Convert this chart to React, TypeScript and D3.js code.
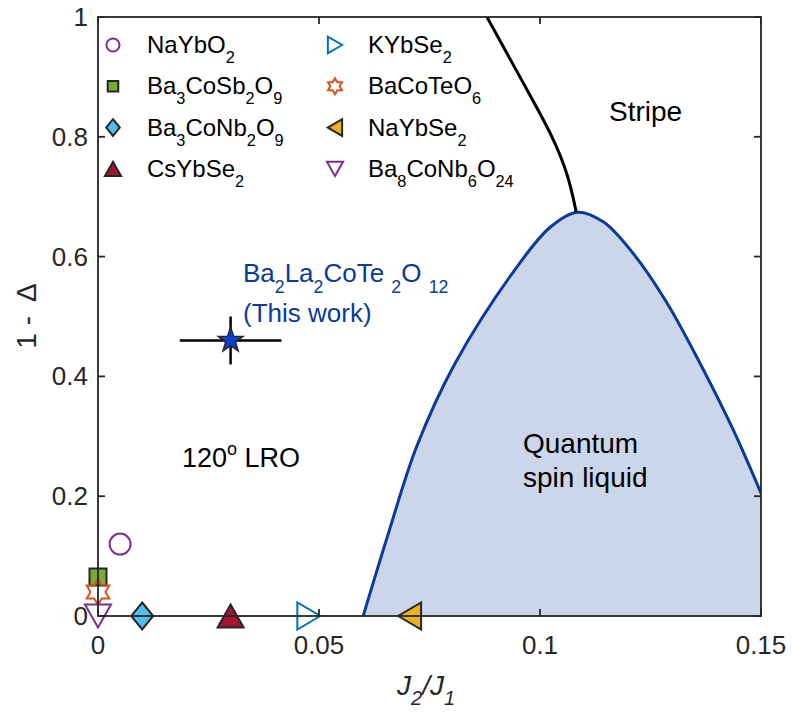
import React from "react";
import * as d3 from "d3";

// QSL phase boundary (J2/J1, 1-Δ)
const qslJ = [0.06, 0.0657, 0.0721, 0.0808, 0.0948, 0.1023, 0.1084, 0.1143, 0.121, 0.1287, 0.1362, 0.1437, 0.15];
const qslY = [0, 0.138, 0.283, 0.422, 0.583, 0.649, 0.674, 0.658, 0.606, 0.523, 0.422, 0.311, 0.205];

// 120-degree / stripe boundary
const stripeJ = [0.088, 0.0962, 0.1023, 0.1062, 0.1082];
const stripeY = [1, 0.89, 0.806, 0.735, 0.674];

// compounds
const compoundNames = [
  "NaYbO_2",
  "Ba_3CoSb_2O_9",
  "Ba_3CoNb_2O_9",
  "CsYbSe_2",
  "KYbSe_2",
  "BaCoTeO_6",
  "NaYbSe_2",
  "Ba_8CoNb_6O_{24}",
];
const compoundJ = [0.005, 0, 0.01, 0.03, 0.0477, 0, 0.0705, 0];
const compoundY = [0.12, 0.065, 0, 0, 0, 0.04, 0, 0];
const compoundMarker = ["circle", "square", "diamond", "up", "right", "hexagram", "left", "down"];
const compoundColor = ["#7E2F8E", "#77AC30", "#4DBEEE", "#A2142F", "#0072BD", "#D95319", "#EDB120", "#7E2F8E"];
const compoundFilled = [false, true, true, true, false, false, true, false];

// this work
const thisJ = 0.03;
const thisY = 0.46;
const thisJErr = 0.0115;
const thisYErr = 0.04;

const xTicks = [0, 0.05, 0.1, 0.15];
const xTickLabels = ["0", "0.05", "0.1", "0.15"];
const yTicks = [0, 0.2, 0.4, 0.6, 0.8, 1];
const yTickLabels = ["0", "0.2", "0.4", "0.6", "0.8", "1"];

const W = 792;
const H = 713;
const L = 98, R = 761, T = 17, B = 616;
const FONT = "'Liberation Sans', Arial, Helvetica, sans-serif";
const AX = "#262626";

function markerPath(kind: string, s: number): string {
  const p = d3.path();
  if (kind === "circle") {
    const r = 10.5 * s;
    p.moveTo(r, 0);
    p.arc(0, 0, r, 0, Math.PI * 2);
  } else if (kind === "square") {
    const a = 8.5 * s;
    p.rect(-a, -a, 2 * a, 2 * a);
  } else if (kind === "diamond") {
    const w = 11 * s, h = 13.5 * s;
    p.moveTo(0, -h); p.lineTo(w, 0); p.lineTo(0, h); p.lineTo(-w, 0); p.closePath();
  } else if (kind === "up" || kind === "down") {
    const w = 13 * s, h = 11.5 * s;
    const d = kind === "up" ? 1 : -1;
    p.moveTo(0, -h * d); p.lineTo(w, h * d); p.lineTo(-w, h * d); p.closePath();
  } else if (kind === "left" || kind === "right") {
    const w = 11.5 * s, h = 13.5 * s;
    const d = kind === "right" ? 1 : -1;
    p.moveTo(w * d, 0); p.lineTo(-w * d, h); p.lineTo(-w * d, -h); p.closePath();
  } else if (kind === "hexagram") {
    const ro = 13 * s, ri = ro / Math.sqrt(3);
    for (let i = 0; i < 12; i++) {
      const r = i % 2 === 0 ? ro : ri;
      const a = -Math.PI / 2 + (i * Math.PI) / 6;
      if (i === 0) p.moveTo(r * Math.cos(a), r * Math.sin(a));
      else p.lineTo(r * Math.cos(a), r * Math.sin(a));
    }
    p.closePath();
  } else if (kind === "star") {
    const ro = 13 * s, ri = ro * 0.4;
    for (let i = 0; i < 10; i++) {
      const r = i % 2 === 0 ? ro : ri;
      const a = -Math.PI / 2 + (i * Math.PI) / 5;
      if (i === 0) p.moveTo(r * Math.cos(a), r * Math.sin(a));
      else p.lineTo(r * Math.cos(a), r * Math.sin(a));
    }
    p.closePath();
  }
  return p.toString();
}

// "Ba_3CoSb_2O_9" -> tspans with subscripts
function Chem({ text, size }: { text: string; size: number }) {
  const parts: { t: string; sub: boolean }[] = [];
  const re = /_\{([^}]*)\}|_(.)|([^_]+)/g;
  let m;
  while ((m = re.exec(text)) !== null) {
    if (m[1] !== undefined) parts.push({ t: m[1], sub: true });
    else if (m[2] !== undefined) parts.push({ t: m[2], sub: true });
    else parts.push({ t: m[3], sub: false });
  }
  const shift = size * 0.42;
  let cur = 0;
  return (
    <>
      {parts.map((p, i) => {
        const dy = (p.sub ? shift : 0) - cur;
        cur = p.sub ? shift : 0;
        return (
          <tspan key={i} dy={dy} fontSize={p.sub ? size * 0.68 : size} style={{ whiteSpace: "pre" }}>
            {p.t}
          </tspan>
        );
      })}
    </>
  );
}

export default function App() {
  const x = d3.scaleLinear().domain([0, 0.15]).range([L, R]);
  const y = d3.scaleLinear().domain([0, 1]).range([B, T]);

  const qsl = qslJ.map((j, i) => [j, qslY[i]] as [number, number]);
  const area = d3
    .area<[number, number]>()
    .x((d) => x(d[0]))
    .y0(y(0))
    .y1((d) => y(d[1]))
    .curve(d3.curveCatmullRom)(qsl);
  const qslLine = d3
    .line<[number, number]>()
    .x((d) => x(d[0]))
    .y((d) => y(d[1]))
    .curve(d3.curveCatmullRom)(qsl);
  const stripeLine = d3
    .line<[number, number]>()
    .x((d) => x(d[0]))
    .y((d) => y(d[1]))
    .curve(d3.curveNatural)(stripeJ.map((j, i) => [j, stripeY[i]] as [number, number]));

  const tickLen = 7;

  return (
    <svg width={W} height={H} style={{ position: "absolute", left: 0, top: 0, background: "#fff" }} fontFamily={FONT}>
      <defs>
        <clipPath id="plot">
          <rect x={L} y={T} width={R - L} height={B - T} />
        </clipPath>
      </defs>

      <g clipPath="url(#plot)">
        <path d={area || ""} fill="#CBD6EA" stroke="none" />
        <path d={qslLine || ""} fill="none" stroke="#0A3A9C" strokeWidth={3} />
        <path d={stripeLine || ""} fill="none" stroke="#000" strokeWidth={3} />
      </g>

      {/* region labels */}
      <text x={609} y={121} fontSize={28} fill="#000">Stripe</text>
      <text x={523} y={453} fontSize={28} fill="#000">Quantum</text>
      <text x={523} y={487} fontSize={28} fill="#000">spin liquid</text>
      <text x={182} y={467} fontSize={27} fill="#000">
        120<tspan dy={-12} fontSize={18}>o</tspan>
        <tspan dy={12}> LRO</tspan>
      </text>

      {/* this work */}
      <g stroke="#000" strokeWidth={2.5}>
        <line x1={x(thisJ - thisJErr)} x2={x(thisJ + thisJErr)} y1={y(thisY)} y2={y(thisY)} />
        <line x1={x(thisJ)} x2={x(thisJ)} y1={y(thisY - thisYErr)} y2={y(thisY + thisYErr)} />
      </g>
      <path
        d={markerPath("star", 1)}
        transform={`translate(${x(thisJ)},${y(thisY)})`}
        fill="#0B3FCF"
        stroke="#262626"
        strokeWidth={1.5}
      />
      <text x={243} y={282} fontSize={26} fill="#0A3A9C">
        <Chem text="Ba_2La_2CoTe _2O _{12}" size={26} />
      </text>
      <text x={243} y={322} fontSize={26} fill="#0A3A9C">(This work)</text>

      {/* compound markers */}
      {compoundNames.map((n, i) => (
        <path
          key={n}
          d={markerPath(compoundMarker[i], 1)}
          transform={`translate(${x(compoundJ[i])},${y(compoundY[i])})`}
          fill={compoundFilled[i] ? compoundColor[i] : "none"}
          stroke={compoundFilled[i] ? AX : compoundColor[i]}
          strokeWidth={2}
        />
      ))}

      {/* axes box */}
      <g stroke={AX} strokeWidth={1.8} fill="none">
        <rect x={L} y={T} width={R - L} height={B - T} />
        {xTicks.map((t) => (
          <g key={"xt" + t}>
            <line x1={x(t)} x2={x(t)} y1={B} y2={B - tickLen} />
            <line x1={x(t)} x2={x(t)} y1={T} y2={T + tickLen} />
          </g>
        ))}
        {yTicks.map((t) => (
          <g key={"yt" + t}>
            <line x1={L} x2={L + tickLen} y1={y(t)} y2={y(t)} />
            <line x1={R} x2={R - tickLen} y1={y(t)} y2={y(t)} />
          </g>
        ))}
      </g>

      {/* tick labels */}
      {xTicks.map((t, i) => (
        <text key={"xl" + t} x={x(t)} y={654} fontSize={26} fill={AX} textAnchor="middle">
          {xTickLabels[i]}
        </text>
      ))}
      {yTicks.map((t, i) => (
        <text key={"yl" + t} x={88} y={y(t) + 9} fontSize={26} fill={AX} textAnchor="end">
          {yTickLabels[i]}
        </text>
      ))}

      {/* axis labels */}
      <text x={397} y={695} fontSize={28} fill={AX} fontStyle="italic">
        J<tspan dy={10} fontSize={20}>2</tspan>
        <tspan dy={-10}>/J</tspan>
        <tspan dy={10} fontSize={20}>1</tspan>
      </text>
      <text transform="translate(36,316) rotate(-90)" fontSize={28} fill={AX} textAnchor="middle" style={{ whiteSpace: "pre" }}>
        1 -  Δ
      </text>

      {/* legend */}
      {compoundNames.map((n, i) => {
        const col = Math.floor(i / 4);
        const row = i % 4;
        const mx = col === 0 ? 113 : 335;
        const tx = col === 0 ? 147 : 368;
        const by = 53 + row * 41.3;
        return (
          <g key={"lg" + n}>
            <path
              d={markerPath(compoundMarker[i], 0.62)}
              transform={`translate(${mx},${by - 8})`}
              fill={compoundFilled[i] ? compoundColor[i] : "none"}
              stroke={compoundFilled[i] ? AX : compoundColor[i]}
              strokeWidth={2}
            />
            <text x={tx} y={by} fontSize={24} fill="#000">
              <Chem text={n} size={24} />
            </text>
          </g>
        );
      })}
    </svg>
  );
}
